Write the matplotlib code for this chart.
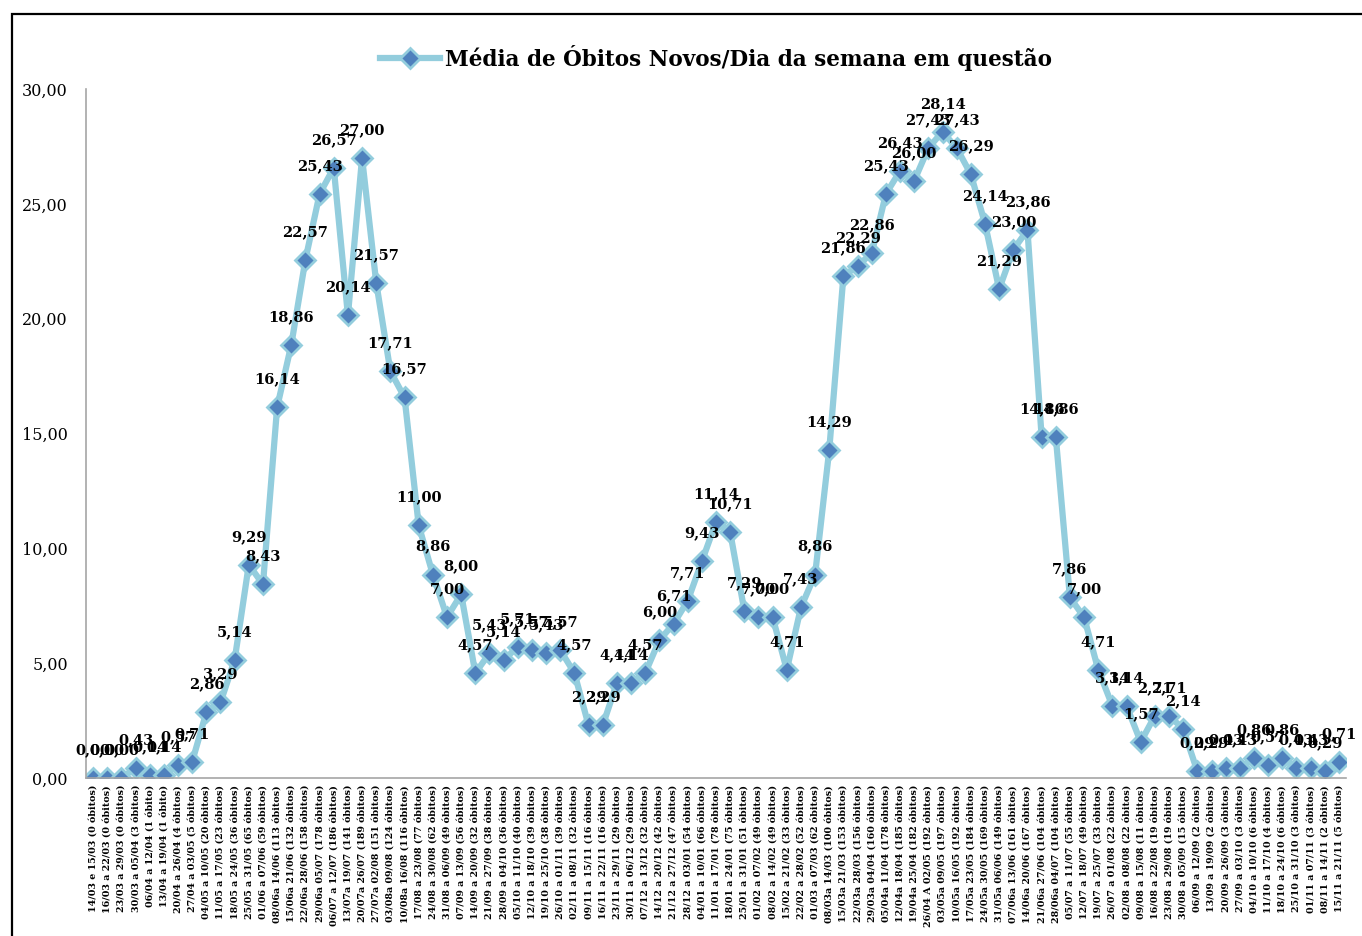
import matplotlib
matplotlib.use('Agg')
from matplotlib import pyplot as plt
from matplotlib.patches import Rectangle

semanas = [
	'14/03 e 15/03 (0 óbitos)', '16/03 a 22/03 (0 óbitos)', '23/03 a 29/03 (0 óbitos)',
	'30/03 a 05/04 (3 óbitos)', '06/04 a 12/04 (1 óbito)', '13/04 a 19/04 (1 óbito)',
	'20/04 a 26/04 (4 óbitos)', '27/04 a 03/05 (5 óbitos)', '04/05 a 10/05 (20 óbitos)',
	'11/05 a 17/05 (23 óbitos)', '18/05 a 24/05 (36 óbitos)', '25/05 a 31/05 (65 óbitos)',
	'01/06 a 07/06 (59 óbitos)', '08/06a 14/06 (113 óbitos)', '15/06a 21/06 (132 óbitos)',
	'22/06a 28/06 (158 óbitos)', '29/06a 05/07 (178 óbitos)', '06/07 a 12/07 (186 óbitos)',
	'13/07a 19/07 (141 óbitos)', '20/07a 26/07 (189 óbitos)', '27/07a 02/08 (151 óbitos)',
	'03/08a 09/08 (124 óbitos)', '10/08a 16/08 (116 óbitos)', '17/08 a 23/08 (77 óbitos)',
	'24/08 a 30/08 (62 óbitos)', '31/08 a 06/09 (49 óbitos)', '07/09 a 13/09 (56 óbitos)',
	'14/09 a 20/09 (32 óbitos)', '21/09 a 27/09 (38 óbitos)', '28/09 a 04/10 (36 óbitos)',
	'05/10 a 11/10 (40 óbitos)', '12/10 a 18/10 (39 óbitos)', '19/10 a 25/10 (38 óbitos)',
	'26/10 a 01/11 (39 óbitos)', '02/11 a 08/11 (32 óbitos)', '09/11 a 15/11 (16 óbitos)',
	'16/11 a 22/11 (16 óbitos)', '23/11 a 29/11 (29 óbitos)', '30/11 a 06/12 (29 óbitos)',
	'07/12 a 13/12 (32 óbitos)', '14/12 a 20/12 (42 óbitos)', '21/12 a 27/12 (47 óbitos)',
	'28/12 a 03/01 (54 óbitos)', '04/01 a 10/01 (66 óbitos)', '11/01 a 17/01 (78 óbitos)',
	'18/01 a 24/01 (75 óbitos)', '25/01 a 31/01 (51 óbitos)', '01/02 a 07/02 (49 óbitos)',
	'08/02 a 14/02 (49 óbitos)', '15/02 a 21/02 (33 óbitos)', '22/02 a 28/02 (52 óbitos)',
	'01/03 a 07/03 (62 óbitos)', '08/03a 14/03 (100 óbitos)', '15/03a 21/03 (153 óbitos)',
	'22/03a 28/03 (156 óbitos)', '29/03a 04/04 (160 óbitos)', '05/04a 11/04 (178 óbitos)',
	'12/04a 18/04 (185 óbitos)', '19/04a 25/04 (182 óbitos)', '26/04 A 02/05 (192 óbitos)',
	'03/05a 09/05 (197 óbitos)', '10/05a 16/05 (192 óbitos)', '17/05a 23/05 (184 óbitos)',
	'24/05a 30/05 (169 óbitos)', '31/05a 06/06 (149 óbitos)', '07/06a 13/06 (161 óbitos)',
	'14/06a 20/06 (167 óbitos)', '21/06a 27/06 (104 óbitos)', '28/06a 04/07 (104 óbitos)',
	'05/07 a 11/07 (55 óbitos)', '12/07 a 18/07 (49 óbitos)', '19/07 a 25/07 (33 óbitos)',
	'26/07 a 01/08 (22 óbitos)', '02/08 a 08/08 (22 óbitos)', '09/08 a 15/08 (11 óbitos)',
	'16/08 a 22/08 (19 óbitos)', '23/08 a 29/08 (19 óbitos)', '30/08 a 05/09 (15 óbitos)',
	'06/09 a 12/09 (2 óbitos)', '13/09 a 19/09 (2 óbitos)', '20/09 a 26/09 (3 óbitos)',
	'27/09 a 03/10 (3 óbitos)', '04/10 a 10/10 (6 óbitos)', '11/10 a 17/10 (4 óbitos)',
	'18/10 a 24/10 (6 óbitos)', '25/10 a 31/10 (3 óbitos)', '01/11 a 07/11 (3 óbitos)',
	'08/11 a 14/11 (2 óbitos)', '15/11 a 21/11 (5 óbitos)',
]

medias = [
	0.00, 0.00, 0.00, 0.43, 0.14, 0.14, 0.57, 0.71, 2.86, 3.29,
	5.14, 9.29, 8.43, 16.14, 18.86, 22.57, 25.43, 26.57, 20.14, 27.00,
	21.57, 17.71, 16.57, 11.00, 8.86, 7.00, 8.00, 4.57, 5.43, 5.14,
	5.71, 5.57, 5.43, 5.57, 4.57, 2.29, 2.29, 4.14, 4.14, 4.57,
	6.00, 6.71, 7.71, 9.43, 11.14, 10.71, 7.29, 7.00, 7.00, 4.71,
	7.43, 8.86, 14.29, 21.86, 22.29, 22.86, 25.43, 26.43, 26.00, 27.43,
	28.14, 27.43, 26.29, 24.14, 21.29, 23.00, 23.86, 14.86, 14.86, 7.86,
	7.00, 4.71, 3.14, 3.14, 1.57, 2.71, 2.71, 2.14, 0.29, 0.29,
	0.43, 0.43, 0.86, 0.57, 0.86, 0.43, 0.43, 0.29, 0.71,
]

titulo = 'Média de Óbitos Novos/Dia da semana em questão'

serif = ['DejaVu Serif']
x = range(len(medias))

fig = plt.figure(figsize=(13.62, 9.36), dpi=100)
fig.patches.append(Rectangle((12 / 1362, -0.1), 1.2, 1 - 14 / 936 + 0.1, transform=fig.transFigure,
	fill=False, edgecolor='black', linewidth=1.6))

ax = fig.add_axes([86 / 1362, 1 - 778 / 936, 1260 / 1362, 689 / 936])
ax.plot(x, medias, color='#93CDDD', linewidth=4.5, marker='D', markersize=10,
	markerfacecolor='#4F81BD', markeredgecolor='#93CDDD', markeredgewidth=2, label=titulo)

# rótulos de dados acima de cada ponto
for i, v in enumerate(medias):
	ax.annotate(f'{v:.2f}'.replace('.', ','), (i, v), xytext=(0, 15), textcoords='offset points',
		ha='center', va='bottom', fontsize=10.5, fontweight='bold', family=serif)

ax.set_xlim(-0.5, len(medias) - 0.5)
ax.set_ylim(0, 30)
ax.set_yticks([0, 5, 10, 15, 20, 25, 30])
ax.set_yticklabels([f'{t:.2f}'.replace('.', ',') for t in [0, 5, 10, 15, 20, 25, 30]],
	family=serif, fontsize=11.5)
ax.set_xticks(list(x))
ax.set_xticklabels(semanas, rotation=90, fontsize=6.8, fontweight='bold', family=serif)
ax.tick_params(axis='y', length=0, pad=13)
ax.tick_params(axis='x', length=0, pad=5)

for lado in ['top', 'right']:
	ax.spines[lado].set_visible(False)
for lado in ['left', 'bottom']:
	ax.spines[lado].set_color('#A6A6A6')
	ax.spines[lado].set_linewidth(1.2)

fig.legend(loc='center', bbox_to_anchor=(716 / 1362, 1 - 58 / 936), frameon=False,
	prop={'family': serif, 'weight': 'bold', 'size': 15.5}, handlelength=2.8, handletextpad=0.2)

fig.savefig('out.png', dpi=100)
